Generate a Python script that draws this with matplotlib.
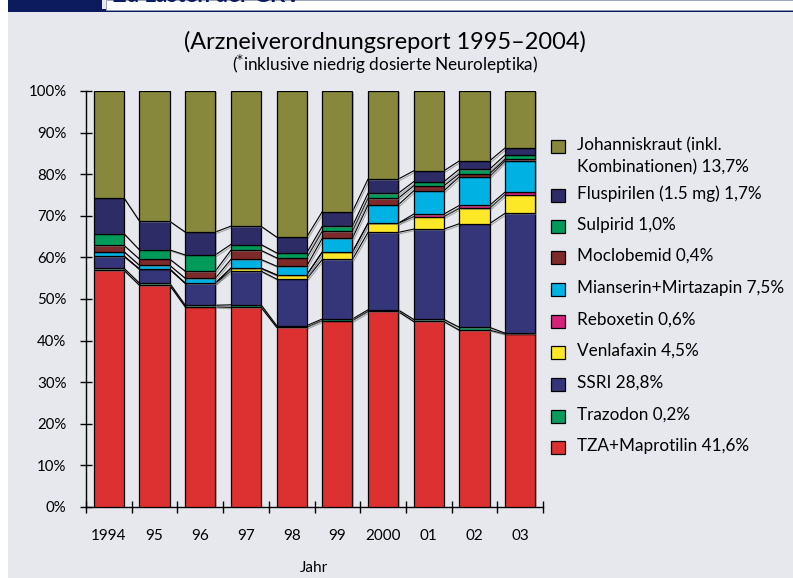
import numpy as np
import matplotlib
matplotlib.use("Agg")
import matplotlib.pyplot as plt
import matplotlib.patheffects as pe
from matplotlib.patches import Rectangle

plt.rcParams["font.family"] = ["Lato", "DejaVu Sans"]

# ── Data (share of prescriptions in %, stacked bottom → top) ──
years = ["1994", "95", "96", "97", "98", "99", "2000", "01", "02", "03"]

tza          = [56.9, 53.3, 48.1, 48.0, 43.2, 44.8, 47.0, 44.6, 42.5, 41.6]
trazodon     = [0.5, 0.5, 0.4, 0.6, 0.4, 0.4, 0.4, 0.5, 0.7, 0.2]
ssri         = [2.9, 3.4, 5.3, 8.1, 11.2, 14.3, 18.6, 21.7, 24.9, 28.8]
venlafaxin   = [0.0, 0.0, 0.0, 0.7, 1.0, 1.8, 2.2, 3.0, 3.7, 4.5]
reboxetin    = [0.0, 0.0, 0.0, 0.0, 0.0, 0.0, 0.0, 0.6, 0.7, 0.6]
mianserin    = [1.1, 0.9, 1.2, 2.1, 2.1, 3.3, 4.4, 5.6, 6.9, 7.5]
moclobemid   = [1.5, 1.5, 1.7, 2.2, 2.0, 1.7, 1.6, 1.2, 0.7, 0.4]
sulpirid     = [2.8, 2.2, 3.9, 1.4, 1.2, 1.2, 1.2, 1.0, 1.1, 1.0]
fluspirilen  = [8.6, 6.9, 5.5, 4.4, 3.8, 3.5, 3.4, 2.6, 2.0, 1.7]
johanniskraut = [25.7, 31.3, 33.9, 32.5, 35.1, 29.0, 21.2, 19.2, 16.8, 13.7]

series = [tza, trazodon, ssri, venlafaxin, reboxetin, mianserin,
          moclobemid, sulpirid, fluspirilen, johanniskraut]
labels = ["TZA+Maprotilin 41,6%", "Trazodon 0,2%", "SSRI 28,8%",
          "Venlafaxin 4,5%", "Reboxetin 0,6%", "Mianserin+Mirtazapin 7,5%",
          "Moclobemid 0,4%", "Sulpirid 1,0%", "Fluspirilen (1.5 mg) 1,7%",
          "Johanniskraut (inkl.\nKombinationen) 13,7%"]
colors = ["#dc3130", "#0a9a5c", "#35357a", "#fce827", "#d6237a",
          "#00b2e3", "#7e2a2a", "#009a5a", "#2d2c66", "#88883c"]

BG = "#e6e8ee"
NAVY = "#0c1a5e"
W = 0.66

fig = plt.figure(figsize=(7.93, 5.78), dpi=100, facecolor="white")
fig.patches.append(Rectangle((8 / 793, 0), 1, 1, transform=fig.transFigure,
                             facecolor=BG, edgecolor="none", zorder=-10))

# header strip (cut off at the top like in the source page)
fig.patches.append(Rectangle((8 / 793, 1 - 12 / 578), 94 / 793, 12 / 578,
                             transform=fig.transFigure, facecolor=NAVY,
                             edgecolor="none"))
fig.patches.append(Rectangle((102 / 793, 1 - 12 / 578), 1, 2.5 / 578,
                             transform=fig.transFigure, facecolor=NAVY,
                             edgecolor="none"))
fig.patches.append(Rectangle((106 / 793, 1 - 9.5 / 578), 1, 9.5 / 578,
                             transform=fig.transFigure, facecolor="white",
                             edgecolor="#9098b0", lw=0.6))
fig.text(113 / 793, 1 - 2 / 578, "Zu Lasten der GKV", fontsize=16,
         fontweight="bold", color=NAVY, va="baseline", ha="left")

ax = fig.add_axes([86 / 793, 71 / 578, 457 / 793, 416 / 578])
ax.set_facecolor("none")

x = np.arange(len(years))
bottom = np.zeros(len(years))
tops = []
shadow = [pe.SimplePatchShadow(offset=(1, -1), shadow_rgbFace="#888888", alpha=0.5),
          pe.Normal()]
for vals, col in zip(series, colors):
    v = np.array(vals)
    ax.bar(x, v, W, bottom=bottom, color=col, edgecolor="black",
           linewidth=0.9, zorder=3, path_effects=shadow)
    bottom = bottom + v
    tops.append(bottom.copy())

# connecting lines between neighbouring bars
line_fx = [pe.SimpleLineShadow(offset=(1, -1), shadow_color="#777777", alpha=0.6),
           pe.Normal()]
for t in tops[:-1]:
    for i in range(len(years) - 1):
        ax.plot([i + W / 2, i + 1 - W / 2], [t[i], t[i + 1]], color="black",
                lw=0.8, zorder=2, path_effects=line_fx)

ax.set_xlim(-0.5, len(years) - 0.5)
ax.set_ylim(0, 100)
for s in ["top", "right"]:
    ax.spines[s].set_visible(False)
ax.spines["left"].set_linewidth(1.0)
ax.spines["bottom"].set_linewidth(1.0)

ax.set_yticks(np.arange(0, 101, 10))
ax.set_yticklabels([f"{v}%" for v in range(0, 101, 10)], fontsize=10.8)
ax.tick_params(axis="y", direction="inout", length=8, width=1, pad=10)

ax.set_xticks(x)
ax.set_xticklabels(years, fontsize=11)
ax.set_xticks(np.arange(-0.5, len(years), 1.0), minor=True)
ax.tick_params(axis="x", which="major", length=0, pad=16)
ax.tick_params(axis="x", which="minor", direction="inout", length=8, width=1)
ax.set_xlabel("Jahr", fontsize=11, labelpad=13)

fig.text(385 / 793, 1 - 42 / 578, "(Arzneiverordnungsreport 1995\u20132004)",
         fontsize=16.9, ha="center", va="center")
fig.text(385 / 793, 1 - 64 / 578, "($^{*}$inklusive niedrig dosierte Neuroleptika)",
         fontsize=12.3, ha="center", va="center")

# legend, top → bottom
leg_y = [146.5, 195, 226.5, 257.5, 289, 321, 352.5, 384, 416, 447]
for yc, lab, col in zip(leg_y, labels[::-1], colors[::-1]):
    fig.patches.append(Rectangle((551 / 793, 1 - (yc + 6.5) / 578), 14 / 793,
                                 13 / 578, transform=fig.transFigure,
                                 facecolor=col, edgecolor="black", lw=0.9))
    for k, line in enumerate(lab.split("\n")):
        fig.text(577 / 793, 1 - (yc - 1.5 + 22 * k) / 578, line, fontsize=12.3,
                 ha="left", va="center")

fig.savefig("out.png", dpi=100, facecolor=fig.get_facecolor())
